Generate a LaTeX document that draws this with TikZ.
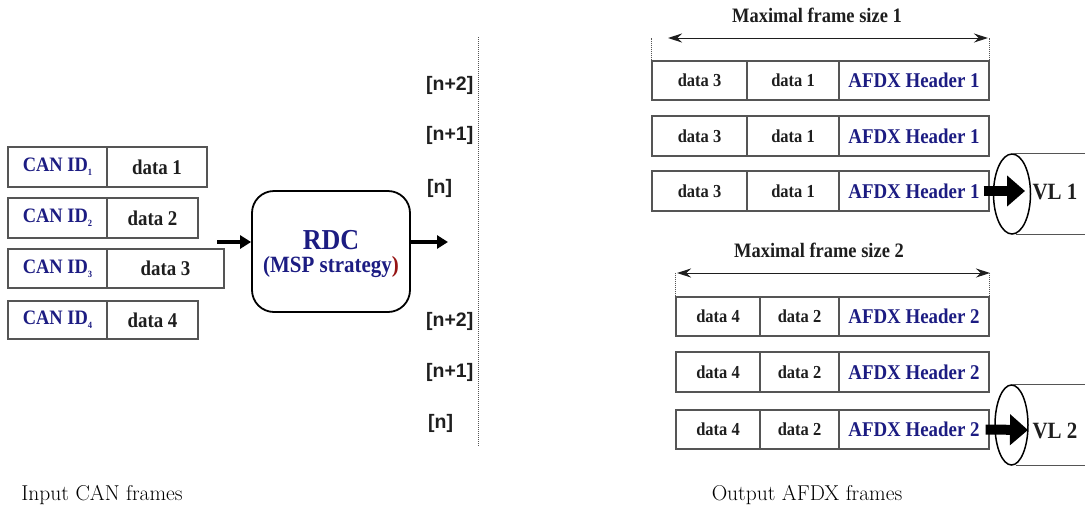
\documentclass[tikz,border=0pt]{standalone}
\usepackage{fontspec}
\newfontfamily\tnr[FakeStretch=0.9]{Liberation Serif}
\newfontfamily\lsans{Liberation Sans}
\usetikzlibrary{arrows.meta,shapes.geometric}
\definecolor{navy}{RGB}{28,28,130}
\definecolor{dred}{RGB}{150,20,20}
\definecolor{ink}{RGB}{30,30,30}
\definecolor{edge}{RGB}{85,85,85}
\newcommand\idsub[1]{\raisebox{-4pt}{\fontsize{9.5}{9.5}\selectfont #1}}
\begin{document}
\begin{tikzpicture}[x=1pt,y=-1pt,
  cell/.style={draw=edge, line width=1.1pt, inner sep=0pt, text=ink},
  idtxt/.style={text=navy, font=\tnr\bfseries\fontsize{20.5}{22}\selectfont},
  ldata/.style={font=\tnr\bfseries\fontsize{21}{22}\selectfont},
  rdata/.style={font=\tnr\bfseries\fontsize{18.3}{20}\selectfont},
  hdr/.style={text=navy, font=\tnr\bfseries\fontsize{21}{22}\selectfont},
  maxlbl/.style={text=ink, font=\tnr\bfseries\fontsize{20.5}{22}\selectfont},
  nlbl/.style={text=ink, inner sep=0pt, anchor=west, font=\lsans\bfseries\fontsize{19.5}{21}\selectfont},
  fat/.style={line width=3.5pt, -{Triangle[length=11pt,width=13pt]}},
  big/.style={line width=10pt, -{Triangle[length=18pt,width=30pt]}},
  dim/.style={line width=1pt, ink, {Stealth[length=14pt,width=9pt]}-{Stealth[length=14pt,width=9pt]}},
  tick/.style={densely dotted, edge, line width=1pt},
  cyl/.style={draw=black, ellipse, line width=1.5pt, inner sep=0pt},
  cylline/.style={edge, line width=1.1pt},
  vllbl/.style={text=ink, font=\tnr\bfseries\fontsize{23.3}{25}\selectfont},
  caption/.style={text=black, font=\fontsize{21.5}{23}\selectfont}
]
\useasboundingbox (0,0) rectangle (1085,512);

% input CAN frames
\node[cell, idtxt, minimum width=99pt, minimum height=40pt] (id1) at (57.5,167) {CAN ID\idsub{1}};
\node[cell, ldata, minimum width=100pt, minimum height=40pt] (d1) at (157,167) {data 1};
\node[cell, idtxt, minimum width=99pt, minimum height=40pt] (id2) at (57.5,218) {CAN ID\idsub{2}};
\node[cell, ldata, minimum width=91pt, minimum height=40pt] (d2) at (152.5,218) {data 2};
\node[cell, idtxt, minimum width=99pt, minimum height=39pt] (id3) at (57.5,268.5) {CAN ID\idsub{3}};
\node[cell, ldata, minimum width=117pt, minimum height=39pt] (d3) at (165.5,268.5) {data 3};
\node[cell, idtxt, minimum width=99pt, minimum height=38pt] (id4) at (57.5,320) {CAN ID\idsub{4}};
\node[cell, ldata, minimum width=91pt, minimum height=38pt] (d4) at (152.5,320) {data 4};

% RDC
\node[draw=black, line width=1.8pt, rounded corners=22pt, minimum width=158pt, minimum height=121pt] (rdc) at (331,251.5) {};
\node[text=navy, font=\tnr\bfseries\fontsize{28.9}{30}\selectfont] (rdct) at (331,240) {RDC};
\node[text=navy, font=\tnr\bfseries\fontsize{23.3}{25}\selectfont] (msp) at (331,267) {(MSP strategy\textcolor{dred}{)}};
\coordinate (ain) at (217,242);
\coordinate (aout) at (448,242);
\draw[fat] (ain) -- (ain -| rdc.west);
\draw[fat] (aout -| rdc.east) -- (aout);

% time slots
\coordinate (dtop) at (478,37);
\coordinate (dbot) at (478,447);
\draw[tick] (dtop) -- (dbot);
\node[nlbl] (t1) at (426,85) {[n+2]};
\node[nlbl] (t2) at (426,135) {[n+1]};
\node[nlbl] (t3) at (427,188) {[n]};
\node[nlbl] (t4) at (426,321) {[n+2]};
\node[nlbl] (t5) at (426,372) {[n+1]};
\node[nlbl] (t6) at (428,423) {[n]};

% output AFDX frames, VL 1
\node[maxlbl] (max1) at (817,15) {Maximal frame size 1};
\node[cell, rdata, minimum width=95pt, minimum height=39pt] (r1a) at (699.5,80.5) {data 3};
\node[cell, rdata, minimum width=92pt, minimum height=39pt] (r1b) at (793,80.5) {data 1};
\node[cell, hdr, minimum width=150pt, minimum height=39pt] (r1c) at (914,80.5) {AFDX Header 1};
\node[cell, rdata, minimum width=95pt, minimum height=40pt] (r2a) at (699.5,136) {data 3};
\node[cell, rdata, minimum width=92pt, minimum height=40pt] (r2b) at (793,136) {data 1};
\node[cell, hdr, minimum width=150pt, minimum height=40pt] (r2c) at (914,136) {AFDX Header 1};
\node[cell, rdata, minimum width=95pt, minimum height=40pt] (r3a) at (699.5,191) {data 3};
\node[cell, rdata, minimum width=92pt, minimum height=40pt] (r3b) at (793,191) {data 1};
\node[cell, hdr, minimum width=150pt, minimum height=40pt] (r3c) at (914,191) {AFDX Header 1};
\coordinate (m1l) at (668,38);
\coordinate (m1r) at (988,38);
\draw[dim] (m1l) -- (m1r);
\draw[tick] (r1a.north west) -- (r1a.north west |- m1l);
\draw[tick] (r1c.north east) -- (r1c.north east |- m1r);
\node[cyl, minimum width=37pt, minimum height=80pt] (vl1e) at (1012,194) {};
\draw[cylline] (vl1e.north) -- ++(73,0);
\draw[cylline] ([xshift=4pt]vl1e.south) -- ++(69,0);
\coordinate (vl1tip) at (1025,191);
\draw[big] ([xshift=-6pt]r3c.east) -- (vl1tip);
\node[vllbl] (vl1) at (1055,192) {VL 1};

% VL 2
\node[maxlbl] (max2) at (819,250) {Maximal frame size 2};
\node[cell, rdata, minimum width=84pt, minimum height=39pt] (r4a) at (718,316.5) {data 4};
\node[cell, rdata, minimum width=79pt, minimum height=39pt] (r4b) at (799.5,316.5) {data 2};
\node[cell, hdr, minimum width=150pt, minimum height=39pt] (r4c) at (914,316.5) {AFDX Header 2};
\node[cell, rdata, minimum width=84pt, minimum height=40pt] (r5a) at (718,372) {data 4};
\node[cell, rdata, minimum width=79pt, minimum height=40pt] (r5b) at (799.5,372) {data 2};
\node[cell, hdr, minimum width=150pt, minimum height=40pt] (r5c) at (914,372) {AFDX Header 2};
\node[cell, rdata, minimum width=84pt, minimum height=39pt] (r6a) at (718,429.5) {data 4};
\node[cell, rdata, minimum width=79pt, minimum height=39pt] (r6b) at (799.5,429.5) {data 2};
\node[cell, hdr, minimum width=150pt, minimum height=39pt] (r6c) at (914,429.5) {AFDX Header 2};
\coordinate (m2l) at (677,273);
\coordinate (m2r) at (990,273);
\draw[dim] (m2l) -- (m2r);
\draw[tick] (r4a.north west) -- (r4a.north west |- m2l);
\draw[tick] (r4c.north east) -- (r4c.north east |- m2r);
\node[cyl, minimum width=33pt, minimum height=80pt] (vl2e) at (1011.5,425) {};
\draw[cylline] (vl2e.north) -- ++(73.5,0);
\draw[cylline] ([xshift=4pt]vl2e.south) -- ++(69.5,0);
\coordinate (vl2tip) at (1028,430);
\draw[big] ([xshift=-4pt]r6c.east) -- (vl2tip);
\node[vllbl] (vl2) at (1055,431) {VL 2};

% captions
\node[caption] (incap) at (102,495) {Input CAN frames};
\node[caption] (outcap) at (807,495) {Output AFDX frames};
\end{tikzpicture}
\end{document}
